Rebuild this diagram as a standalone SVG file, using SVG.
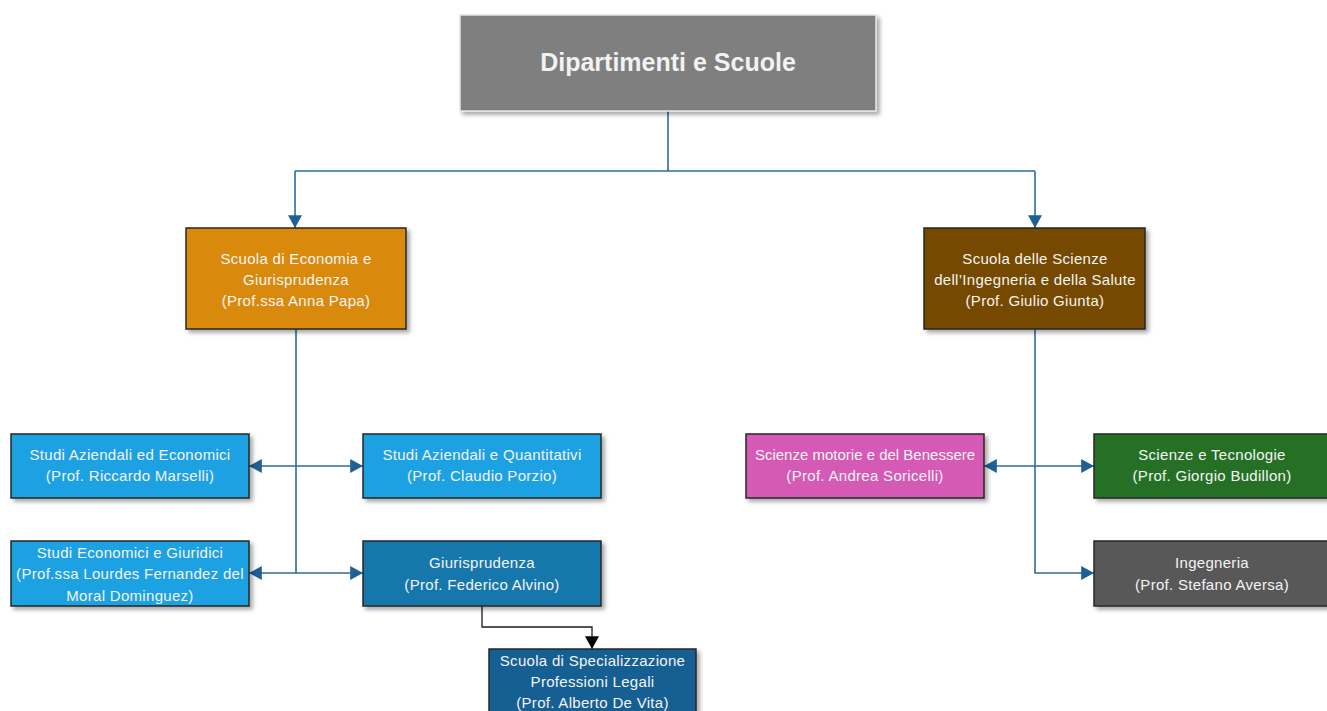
<svg xmlns="http://www.w3.org/2000/svg" width="1327" height="711" viewBox="0 0 1327 711">
  <style>
    .box { stroke: #262626; stroke-width: 1.5; filter: url(#shadow); }
    .t { font-family: "Liberation Sans", Arial, sans-serif; font-size: 15px; fill: #F4F4F4; text-anchor: middle; letter-spacing: 0.3px; }
    .title { font-family: "Liberation Sans", Arial, sans-serif; font-size: 25px; font-weight: bold; fill: #F2F2F2; text-anchor: middle; }
    .c { fill: none; stroke: #2D6B9C; stroke-width: 1.6; }
    .k { fill: none; stroke: #1a1a1a; stroke-width: 1.3; }
  </style>
  <defs>
    <filter id="shadow" x="-10%" y="-10%" width="125%" height="130%">
      <feDropShadow dx="3" dy="3" stdDeviation="2" flood-color="#000" flood-opacity="0.35"/>
    </filter>
    <marker id="arr" markerUnits="userSpaceOnUse" markerWidth="14" markerHeight="14" refX="11" refY="6" orient="auto-start-reverse" viewBox="0 0 12 12">
      <path d="M0,0 L11,6 L0,12 Z" fill="#1F5F94"/>
    </marker>
    <marker id="arrk" markerUnits="userSpaceOnUse" markerWidth="14" markerHeight="14" refX="11" refY="6" orient="auto" viewBox="0 0 12 12">
      <path d="M0,0 L11,6 L0,12 Z" fill="#000"/>
    </marker>
  </defs>
  <rect width="1327" height="711" fill="#FFFFFF"/>

  <g id="connectors">
    <path class="c" d="M668,111 V171"/>
    <path class="c" d="M295,171 H1035"/>
    <path class="c" d="M295,171 V228" marker-end="url(#arr)"/>
    <path class="c" d="M1035,171 V228" marker-end="url(#arr)"/>
    <path class="c" d="M296,329 V573"/>
    <path class="c" d="M249,466 H363" marker-start="url(#arr)" marker-end="url(#arr)"/>
    <path class="c" d="M249,573 H363" marker-start="url(#arr)" marker-end="url(#arr)"/>
    <path class="c" d="M1035,329 V573 H1094" marker-end="url(#arr)"/>
    <path class="c" d="M984,466 H1094" marker-start="url(#arr)" marker-end="url(#arr)"/>
    <path class="k" d="M482,606 V627 H592 V649" marker-end="url(#arrk)"/>
  </g>

  <g id="root">
    <rect x="460" y="15" width="416" height="96" fill="#7F7F7F" stroke="#E6E6E6" stroke-width="1.5" filter="url(#shadow)"/>
    <text class="title" x="668" y="71">Dipartimenti e Scuole</text>
  </g>

  <g id="scuola-economia">
    <rect class="box" x="186" y="228" width="220" height="101" fill="#D98A0B"/>
    <text class="t" x="296" y="263.5">Scuola di Economia e</text>
    <text class="t" x="296" y="285">Giurisprudenza</text>
    <text class="t" x="296" y="306">(Prof.ssa Anna Papa)</text>
  </g>

  <g id="scuola-scienze">
    <rect class="box" x="924" y="228" width="221" height="101" fill="#764806"/>
    <text class="t" x="1035" y="263.5">Scuola delle Scienze</text>
    <text class="t" x="1035" y="285">dell’Ingegneria e della Salute</text>
    <text class="t" x="1035" y="306">(Prof. Giulio Giunta)</text>
  </g>

  <g id="studi-aziendali-economici">
    <rect class="box" x="11" y="434" width="238" height="64" fill="#1BA1E2"/>
    <text class="t" x="130" y="459.5">Studi Aziendali ed Economici</text>
    <text class="t" x="130" y="481">(Prof. Riccardo Marselli)</text>
  </g>

  <g id="studi-aziendali-quantitativi">
    <rect class="box" x="363" y="434" width="238" height="64" fill="#1BA1E2"/>
    <text class="t" x="482" y="459.5">Studi Aziendali e Quantitativi</text>
    <text class="t" x="482" y="481">(Prof. Claudio Porzio)</text>
  </g>

  <g id="studi-economici-giuridici">
    <rect class="box" x="11" y="541" width="238" height="65" fill="#1BA1E2"/>
    <text class="t" x="130" y="557.5">Studi Economici e Giuridici</text>
    <text class="t" x="130" y="579">(Prof.ssa Lourdes Fernandez del</text>
    <text class="t" x="130" y="600.5">Moral Dominguez)</text>
  </g>

  <g id="giurisprudenza">
    <rect class="box" x="363" y="541" width="238" height="65" fill="#1877AC"/>
    <text class="t" x="482" y="568">Giurisprudenza</text>
    <text class="t" x="482" y="589.5">(Prof. Federico Alvino)</text>
  </g>

  <g id="scuola-specializzazione">
    <rect class="box" x="489" y="649" width="207" height="70" fill="#155E92"/>
    <text class="t" x="592.5" y="666">Scuola di Specializzazione</text>
    <text class="t" x="592.5" y="687">Professioni Legali</text>
    <text class="t" x="592.5" y="708">(Prof. Alberto De Vita)</text>
  </g>

  <g id="scienze-motorie">
    <rect class="box" x="746" y="434" width="238" height="64" fill="#D55AB5"/>
    <text class="t" x="865" y="459.5" style="letter-spacing:0">Scienze motorie e del Benessere</text>
    <text class="t" x="865" y="481">(Prof. Andrea Soricelli)</text>
  </g>

  <g id="scienze-tecnologie">
    <rect class="box" x="1094" y="434" width="238" height="64" fill="#277027"/>
    <text class="t" x="1212" y="459.5">Scienze e Tecnologie</text>
    <text class="t" x="1212" y="481">(Prof. Giorgio Budillon)</text>
  </g>

  <g id="ingegneria">
    <rect class="box" x="1094" y="541" width="238" height="65" fill="#595959"/>
    <text class="t" x="1212" y="568">Ingegneria</text>
    <text class="t" x="1212" y="589.5">(Prof. Stefano Aversa)</text>
  </g>
</svg>
